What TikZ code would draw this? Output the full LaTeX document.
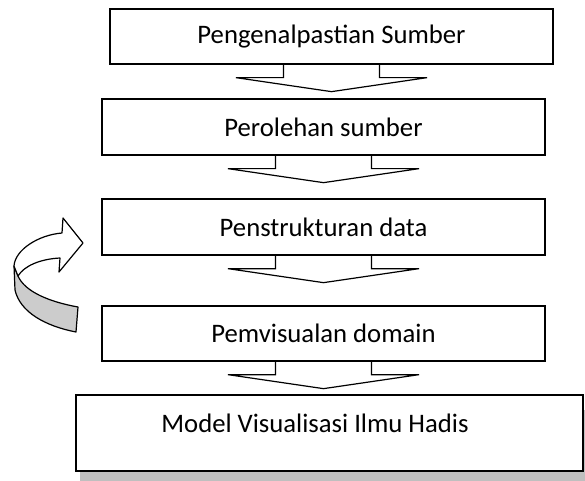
\documentclass[tikz,border=0pt]{standalone}
\usepackage{fontspec}
\setmainfont{Carlito}
\usetikzlibrary{calc}
\tikzset{
  stepbox/.style={draw=black, line width=1.3bp, fill=white, inner sep=0pt, font=\fontsize{26.8}{30}\selectfont},
  blockarr/.style={draw=black, line width=1.2bp, line join=miter},
  txt/.style={inner sep=0pt, font=\fontsize{26.8}{30}\selectfont},
  curv/.style={draw=black, line width=1.2bp, line join=round},
}
\newcommand{\blockdown}[1]{%
  \draw[blockarr] ($(#1.south)+(-48,0)$) -- ($(#1.south)+(-48,13)$) -- ($(#1.south)+(-95.5,13)$)
    -- ($(#1.south)+(0,27)$) coordinate (#1tip) -- ($(#1.south)+(95.5,13)$) -- ($(#1.south)+(48,13)$) -- ($(#1.south)+(48,0)$);
}
\begin{document}
\begin{tikzpicture}[x=1bp,y=-1bp]
\useasboundingbox (0,0) rectangle (585,481);
\begin{scope}
\clip (0,0) rectangle (585,481);
% boxes
\node[stepbox, minimum width=443bp, minimum height=55bp] (b1) at (331.5,36.5) {Pengenalpastian Sumber};
\node[stepbox, minimum width=443bp, minimum height=56bp] (b2) at (323.5,127) {Perolehan sumber};
\node[stepbox, minimum width=443bp, minimum height=56bp] (b3) at (323.5,227) {Penstrukturan data};
\node[stepbox, minimum width=443bp, minimum height=55bp] (b4) at (323.5,333.5) {Pemvisualan domain};
\fill[gray!50] (80,410) rectangle (592,490);
\node[stepbox, minimum width=507bp, minimum height=76bp] (b5) at (329.5,433) {};
\node[txt] (b5t) at (315,423) {Model Visualisasi Ilmu Hadis};
\draw[line width=2.4bp] (200,471) -- (430,471);
% block arrows
\blockdown{b1}
\blockdown{b2}
\blockdown{b3}
\blockdown{b4}
% curved arrow
\draw[curv, fill=gray!40] (14,266) -- (15,290) .. controls (20,312) and (45,326) .. (76,332)
  -- (78,307) .. controls (50,302) and (25,292) .. (18,276) -- cycle;
\draw[curv, fill=white] (62,233) -- (63,218) -- (83,243) coordinate (ctip) -- (59,272) -- (60,258)
  .. controls (40,259) and (24,266) .. (18,276) -- (14,266) .. controls (15,250) and (38,235) .. (62,233) -- cycle;
\end{scope}
\end{tikzpicture}
\end{document}
